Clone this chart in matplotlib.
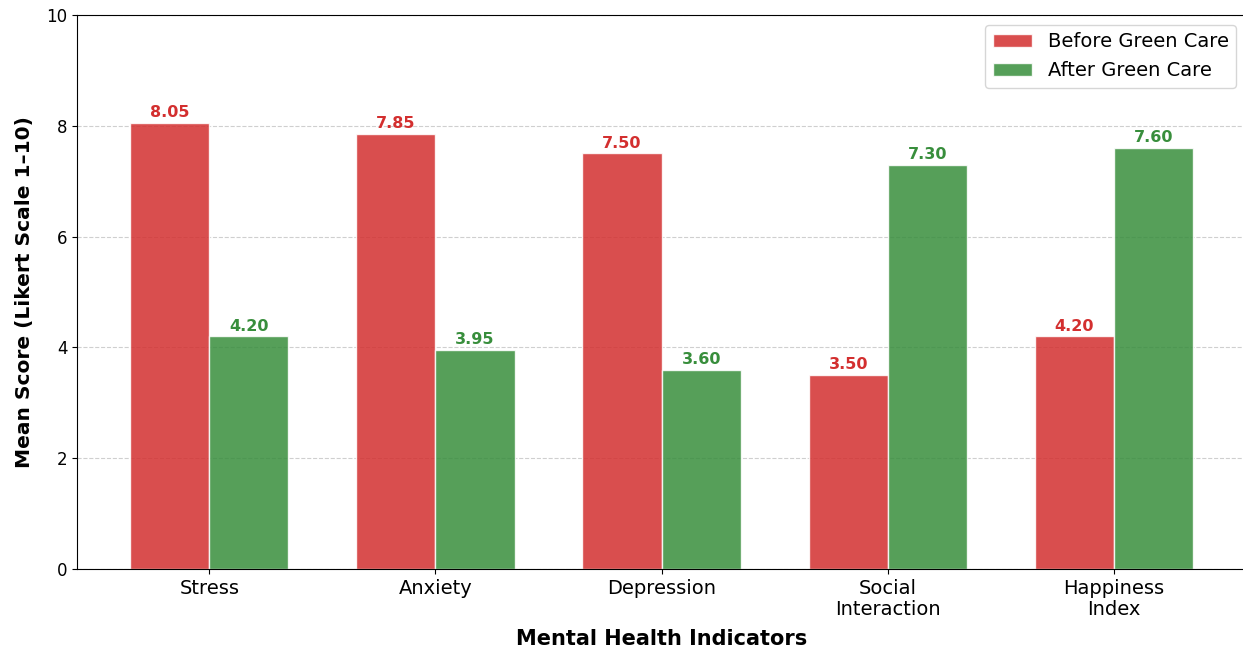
import numpy as np
import matplotlib.pyplot as plt

indicators = ["Stress", "Anxiety", "Depression", "Social\nInteraction", "Happiness\nIndex"]
before = [8.05, 7.85, 7.50, 3.50, 4.20]
after = [4.20, 3.95, 3.60, 7.30, 7.60]

red = "#d32f2f"
green = "#388e3c"

fig, ax = plt.subplots(figsize=(12.43, 6.49), dpi=100)

x = np.arange(len(indicators))
w = 0.35

b1 = ax.bar(x - w / 2, before, w, color=red, alpha=0.85,
            edgecolor="white", linewidth=1, label="Before Green Care")
b2 = ax.bar(x + w / 2, after, w, color=green, alpha=0.85,
            edgecolor="white", linewidth=1, label="After Green Care")

for bars, col in [(b1, red), (b2, green)]:
    for b in bars:
        ax.text(b.get_x() + b.get_width() / 2, b.get_height() + 0.05,
                f"{b.get_height():.2f}", ha="center", va="bottom",
                color=col, fontsize=11.5, fontweight="bold")

ax.set_ylim(0, 10)
ax.set_xticks(x)
ax.set_xticklabels(indicators, fontsize=14, linespacing=1.15)
ax.tick_params(axis="y", labelsize=12)
ax.set_xlabel("Mental Health Indicators", fontsize=15, fontweight="bold", labelpad=7)
ax.set_ylabel("Mean Score (Likert Scale 1\u201310)", fontsize=14.5, fontweight="bold",
              labelpad=9)
ax.yaxis.grid(True, linestyle="--", alpha=0.6)
ax.set_axisbelow(True)
ax.legend(fontsize=14, loc="upper right")

fig.subplots_adjust(left=0.062, right=1.0025, top=0.977, bottom=0.123)
fig.savefig("out.png", dpi=100)
